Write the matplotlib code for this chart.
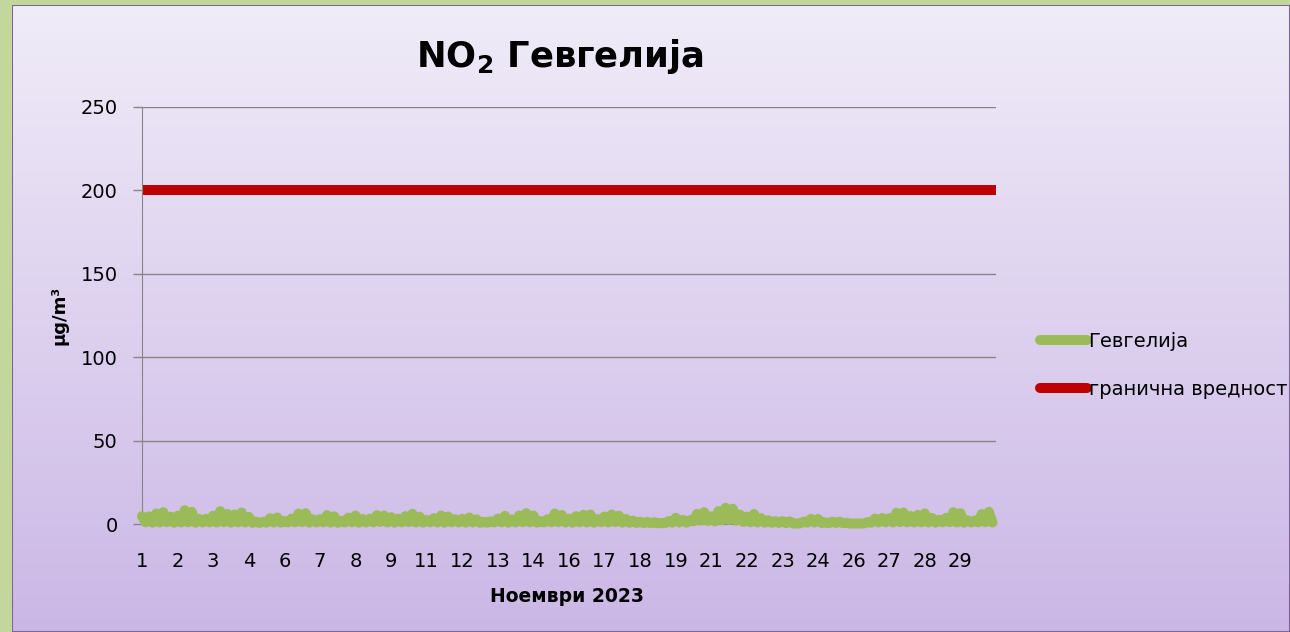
import numpy as np
import matplotlib
matplotlib.use("Agg")
from matplotlib import pyplot as plt
from matplotlib.colors import LinearSegmentedColormap
from matplotlib.patches import Rectangle

plt.rcParams['font.family'] = ['DejaVu Sans']
plt.rcParams['mathtext.fontset'] = 'dejavusans'

# NO2 in Gevgelija, readings every 3 hours through November 2023 (ug/m3)
gevgelija = [
    4.7, 1.0, 4.6, 0.8, 6.3, 0.9, 7.1, 1.1, 4.4, 0.7, 5.0, 0.9, 8.3, 1.0, 7.3, 0.8, 3.1, 0.9, 3.1, 1.0,
    5.0, 0.9, 7.7, 1.1, 6.0, 0.8, 5.7, 1.0, 6.9, 0.9, 4.3, 0.7, 1.4, 0.6, 1.3, 0.8, 3.5, 0.9, 3.9, 0.8,
    1.8, 0.9, 3.2, 1.0, 6.3, 1.1, 6.5, 0.8, 2.8, 0.9, 2.9, 1.0, 5.3, 0.8, 4.6, 0.7, 1.9, 0.9, 3.8, 1.0,
    5.1, 0.8, 3.0, 0.9, 3.2, 1.0, 5.3, 1.2, 5.1, 0.9, 4.1, 0.8, 3.2, 1.0, 4.7, 1.1, 6.1, 0.9, 4.4, 0.8,
    2.4, 1.0, 3.5, 0.9, 5.1, 0.8, 4.5, 1.0, 2.9, 0.9, 3.1, 0.8, 3.9, 0.9, 2.8, 0.7, 1.3, 0.8, 1.6, 0.9,
    3.2, 1.0, 4.9, 0.8, 2.7, 0.9, 5.1, 1.1, 6.5, 1.0, 5.1, 0.8, 1.7, 0.9, 2.9, 1.0, 6.3, 1.1, 5.4, 0.9,
    3.2, 0.8, 4.7, 1.0, 5.5, 0.9, 5.7, 0.8, 2.9, 1.0, 4.5, 0.9, 5.7, 1.1, 5.0, 0.8, 3.0, 0.7, 2.0, 0.6,
    1.3, 0.6, 1.2, 0.5, 1.1, 0.4, 0.6, 0.5, 1.7, 0.8, 3.7, 0.9, 2.5, 0.8, 2.3, 1.6, 6.1, 2.0, 7.1, 1.8,
    4.6, 1.5, 7.7, 2.2, 9.7, 2.4, 9.2, 2.0, 5.7, 1.2, 4.4, 1.0, 6.0, 0.9, 3.5, 0.8, 2.3, 0.7, 1.7, 0.6,
    1.7, 0.5, 1.6, 0.3, 0.3, 0.4, 1.5, 0.8, 3.1, 0.9, 3.0, 0.6, 1.0, 0.5, 1.4, 0.6, 1.4, 0.5, 0.7, 0.3,
    0.3, 0.3, 0.3, 0.4, 1.2, 0.8, 3.3, 0.9, 3.6, 1.0, 3.5, 0.9, 6.7, 1.1, 6.9, 1.0, 4.8, 0.9, 5.5, 1.0,
    6.4, 0.9, 3.6, 0.8, 2.5, 1.0, 3.7, 1.1, 7.1, 0.9, 6.5, 0.8, 2.2, 0.9, 2.1, 1.0, 5.9, 1.1, 7.3, 0.9,
]
hours = np.arange(0, 720, 3)
limit_value = 200

# category labels, one every 30 hours
tick_hours = np.arange(0, 720, 30)
day_labels = [1, 2, 3, 4, 6, 7, 8, 9, 11, 12, 13, 14, 16, 17, 18, 19, 21, 22, 23, 24, 26, 27, 28, 29]

W, H = 1290, 632
fig = plt.figure(figsize=(W / 100, H / 100), dpi=100, facecolor='#c3d69b')

# lavender chart panel with vertical gradient
bg = fig.add_axes([12 / W, 0, 1 - 12 / W, 1 - 5 / H], zorder=-5)
grad = np.linspace(0, 1, 256).reshape(-1, 1)
panel_cmap = LinearSegmentedColormap.from_list('panel', ['#f0ecf8', '#cbb7e6'])
bg.imshow(grad, aspect='auto', cmap=panel_cmap, extent=[0, 1, 0, 1])
bg.add_patch(Rectangle((0, 0), 1, 1, transform=bg.transAxes, fill=False,
                       edgecolor='#8064a2', lw=1.5))
bg.set_axis_off()

ax = fig.add_axes([142 / W, 1 - 524 / H, 854 / W, 417 / H])
ax.patch.set_alpha(0)

ax.plot(hours, gevgelija, color='#9bbb59', lw=7.2, solid_capstyle='round',
        solid_joinstyle='round', clip_on=False, label='Гевгелија', zorder=3)
ax.axhline(limit_value, color='#c00000', lw=7.2, solid_capstyle='butt',
           label='гранична вредност', zorder=2)

ax.set_xlim(0, 720)
ax.set_ylim(0, 250)
ax.set_yticks(np.arange(0, 251, 50))
ax.set_xticks(tick_hours)
ax.set_xticklabels(day_labels)
ax.yaxis.grid(True, color='#868686', lw=1)
ax.set_axisbelow(True)
ax.tick_params(axis='y', length=6.5, width=1, color='#868686', pad=11, labelsize=14)
ax.tick_params(axis='x', length=0, pad=20, labelsize=14)
for side in ['top', 'right']:
    ax.spines[side].set_visible(False)
for side in ['left', 'bottom']:
    ax.spines[side].set_color('#868686')

fig.text(560 / W, 1 - 57 / H, r'NO$_\mathbf{2}$ Гевгелија', ha='center', va='center',
         fontsize=25.5, fontweight='bold')
fig.text(60 / W, 1 - 315 / H, 'μg/m³', rotation=90, ha='center', va='center',
         fontsize=13, fontweight='bold')
fig.text(567 / W, 1 - 597 / H, 'Ноември 2023', ha='center', va='center',
         fontsize=13.5, fontweight='bold')

leg = fig.legend(loc='upper left', bbox_to_anchor=(1040 / W, 1 - 332 / H), frameon=False,
                 fontsize=14, handlelength=2.4, handletextpad=0.1, labelspacing=1.5,
                 borderpad=0, borderaxespad=0)
for line in leg.get_lines():
    line.set_solid_capstyle('round')

fig.savefig('out.png', dpi=100, facecolor=fig.get_facecolor())
